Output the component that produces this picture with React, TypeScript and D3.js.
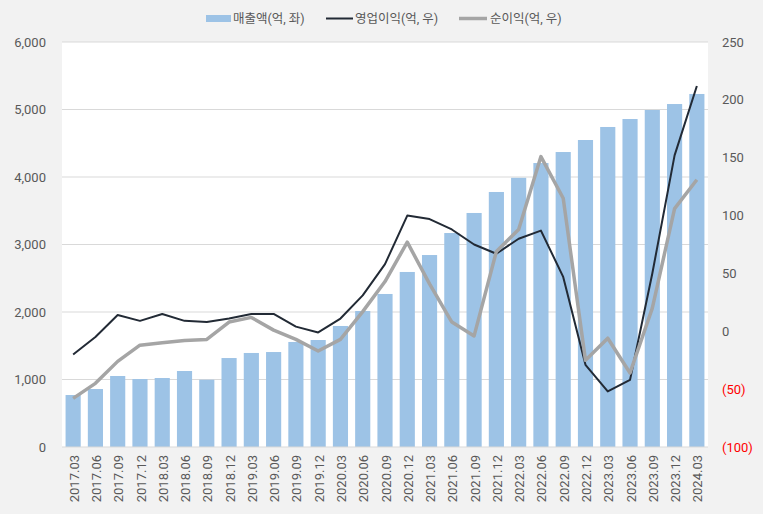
import React from "react";
import * as d3 from "d3";

const categories = ["2017.03","2017.06","2017.09","2017.12","2018.03","2018.06","2018.09","2018.12","2019.03","2019.06","2019.09","2019.12","2020.03","2020.06","2020.09","2020.12","2021.03","2021.06","2021.09","2021.12","2022.03","2022.06","2022.09","2022.12","2023.03","2023.06","2023.09","2023.12","2024.03"];
const revenue = [770,859,1052,1007,1022,1126,997,1318,1393,1407,1556,1585,1793,2015,2267,2593,2844,3170,3467,3778,3988,4207,4370,4548,4741,4859,4993,5081,5230];
const operatingProfit = [-20,-5,14,9,15,9,8,11,15,15,4,-1,11,31,58,100,97,88,75,67,80,87,47,-29,-52,-42,50,152,212];
const netProfit = [-58,-45,-26,-12,-10,-8,-7,8,12,1,-7,-17,-7,17,43,77,41,8,-4,69,88,151,115,-25,-6,-36,20,106,131];
const leftTicks = [0,1000,2000,3000,4000,5000,6000];
const rightTicks = [-100,-50,0,50,100,150,200,250];
const legendLabels = ["매출액(억, 좌)", "영업이익(억, 우)", "순이익(억, 우)"];

const W = 763, H = 514;
const M = { left: 62, right: 708, top: 42, bottom: 447 };
const FONT = "Roboto, 'Noto Sans CJK KR', sans-serif";

export default function App() {
  const x = d3.scaleBand<string>().domain(categories).range([M.left, M.right]).paddingInner(0.32).paddingOuter(0.16);
  const yL = d3.scaleLinear().domain([0, 6000]).range([M.bottom, M.top]);
  const yR = d3.scaleLinear().domain([-100, 250]).range([M.bottom, M.top]);
  const cx = (c: string) => (x(c) as number) + x.bandwidth() / 2;
  const lineOp = d3.line<number>().x((_, i) => cx(categories[i])).y((d) => yR(d));
  const fmt = d3.format(",");
  const rfmt = (v: number) => (v < 0 ? `(${Math.abs(v)})` : `${v}`);

  return (
    <svg width={W} height={H} style={{ position: "absolute", left: 0, top: 0, background: "#f2f2f2" }} fontFamily={FONT}>
      <rect x={0} y={0} width={W} height={H} fill="#f2f2f2" />
      <rect x={M.left} y={M.top} width={M.right - M.left} height={M.bottom - M.top} fill="#ffffff" />
      {leftTicks.slice(1).map((t) => (
        <line key={t} x1={M.left} x2={M.right} y1={yL(t)} y2={yL(t)} stroke="#d9d9d9" strokeWidth={1} />
      ))}
      {categories.map((c, i) => (
        <rect key={c} x={x(c)} y={yL(revenue[i])} width={x.bandwidth()} height={yL(0) - yL(revenue[i])} fill="#9dc3e6" />
      ))}
      <line x1={M.left} x2={M.right} y1={M.bottom} y2={M.bottom} stroke="#d9d9d9" strokeWidth={1} />
      <path d={lineOp(operatingProfit) || ""} fill="none" stroke="#222a35" strokeWidth={2} strokeLinejoin="round" />
      <path d={lineOp(netProfit) || ""} fill="none" stroke="#a5a5a5" strokeWidth={3.5} strokeLinejoin="round" />
      {leftTicks.map((t) => (
        <text key={t} x={46} y={yL(t)} dy="0.35em" textAnchor="end" fontSize={13} fill="#595959">{fmt(t)}</text>
      ))}
      {rightTicks.map((t) => (
        <text key={t} x={722} y={yR(t)} dy="0.35em" textAnchor="start" fontSize={13} fill={t < 0 ? "#ff0000" : "#595959"}>{rfmt(t)}</text>
      ))}
      {categories.map((c) => (
        <text key={c} transform={`translate(${cx(c) + 1},455) rotate(-90)`} dy="0.35em" textAnchor="end" fontSize={13} fill="#595959">{c}</text>
      ))}
      <g fontSize={12.5} fill="#595959">
        <rect x={206} y={15} width={25} height={7} fill="#9dc3e6" />
        <text x={233} y={18.5} dy="0.35em">{legendLabels[0]}</text>
        <line x1={326} x2={353} y1={18.5} y2={18.5} stroke="#222a35" strokeWidth={2} />
        <text x={355} y={18.5} dy="0.35em">{legendLabels[1]}</text>
        <line x1={459} x2={487} y1={18.5} y2={18.5} stroke="#a5a5a5" strokeWidth={3.5} />
        <text x={490} y={18.5} dy="0.35em">{legendLabels[2]}</text>
      </g>
    </svg>
  );
}
